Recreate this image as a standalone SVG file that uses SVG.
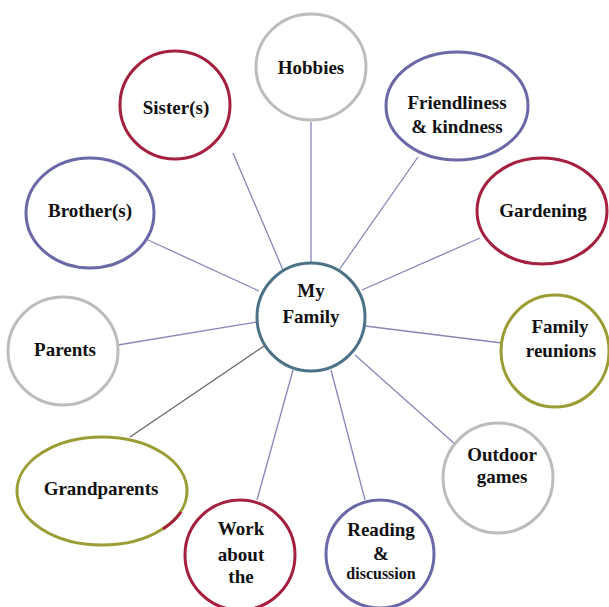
<svg xmlns="http://www.w3.org/2000/svg" width="609" height="607" viewBox="0 0 609 607">
<style>
.n{fill:#fff;stroke-width:3}
.red{stroke:#a5203e}
.pur{stroke:#6b68a8}
.gry{stroke:#bcbcbc}
.olv{stroke:#9c9c34}
.ctr{stroke:#4b7286}
.t{font-family:"Liberation Serif","Times New Roman",serif;font-weight:bold;font-size:19px;fill:#111;text-anchor:middle}
.c line{stroke:#8886b6;stroke-width:1.3}
</style>
<rect width="609" height="607" fill="#fff"/>
<g class="c" id="connectors">
<line x1="311" y1="122" x2="311" y2="263"/>
<line x1="233" y1="153" x2="283" y2="270"/>
<line x1="418" y1="157" x2="339" y2="270"/>
<line x1="480" y1="238" x2="362" y2="290"/>
<line x1="148" y1="240" x2="259" y2="291"/>
<line x1="118" y1="345" x2="257" y2="322"/>
<line x1="365" y1="326" x2="502" y2="343"/>
<line x1="130" y1="437" x2="264" y2="346" style="stroke:#666"/>
<line x1="257" y1="500" x2="293" y2="370"/>
<line x1="365" y1="500" x2="331" y2="370"/>
<line x1="456" y1="445" x2="355" y2="355"/>
</g>
<g id="hobbies"><ellipse class="n gry" cx="311" cy="67" rx="55" ry="53"/><text class="t" x="311" y="74">Hobbies</text></g>
<g id="sisters"><ellipse class="n red" cx="175" cy="105" rx="55" ry="54"/><text class="t" x="176" y="114">Sister(s)</text></g>
<g id="friendliness"><ellipse class="n pur" cx="457" cy="106" rx="71" ry="54"/><text class="t" x="457" y="109">Friendliness</text><text class="t" x="457" y="133">&amp; kindness</text></g>
<g id="gardening"><ellipse class="n red" cx="542" cy="211" rx="65" ry="53"/><text class="t" x="543" y="217">Gardening</text></g>
<g id="brothers"><ellipse class="n pur" cx="90" cy="213" rx="64" ry="55"/><text class="t" x="90" y="217">Brother(s)</text></g>
<g id="parents"><ellipse class="n gry" cx="63" cy="351" rx="55" ry="54"/><text class="t" x="65" y="356">Parents</text></g>
<g id="reunions"><ellipse class="n olv" cx="555" cy="351" rx="54" ry="56"/><text class="t" x="560" y="333">Family</text><text class="t" x="561" y="357">reunions</text></g>
<g id="outdoor"><ellipse class="n gry" cx="498" cy="478" rx="55" ry="55"/><text class="t" x="502" y="461">Outdoor</text><text class="t" x="502" y="483">games</text></g>
<g id="grandparents"><ellipse class="n olv" cx="102" cy="491" rx="85" ry="54"/><path d="M181,512 A85,54 0 0 1 163,529" fill="none" class="red" stroke-width="3"/><text class="t" x="101" y="495">Grandparents</text></g>
<g id="work"><ellipse class="n red" cx="240" cy="555" rx="55" ry="55"/><text class="t" x="241" y="535">Work</text><text class="t" x="241" y="561">about</text><text class="t" x="241" y="583">the</text></g>
<g id="reading"><ellipse class="n pur" cx="380" cy="554" rx="54" ry="54"/><text class="t" x="381" y="536">Reading</text><text class="t" x="381" y="560">&amp;</text><text class="t" x="381" y="579" style="font-size:16px">discussion</text></g>
<g id="center"><ellipse class="n ctr" cx="311" cy="317" rx="54" ry="54"/><text class="t" x="311" y="297">My</text><text class="t" x="311" y="323">Family</text></g>
</svg>
